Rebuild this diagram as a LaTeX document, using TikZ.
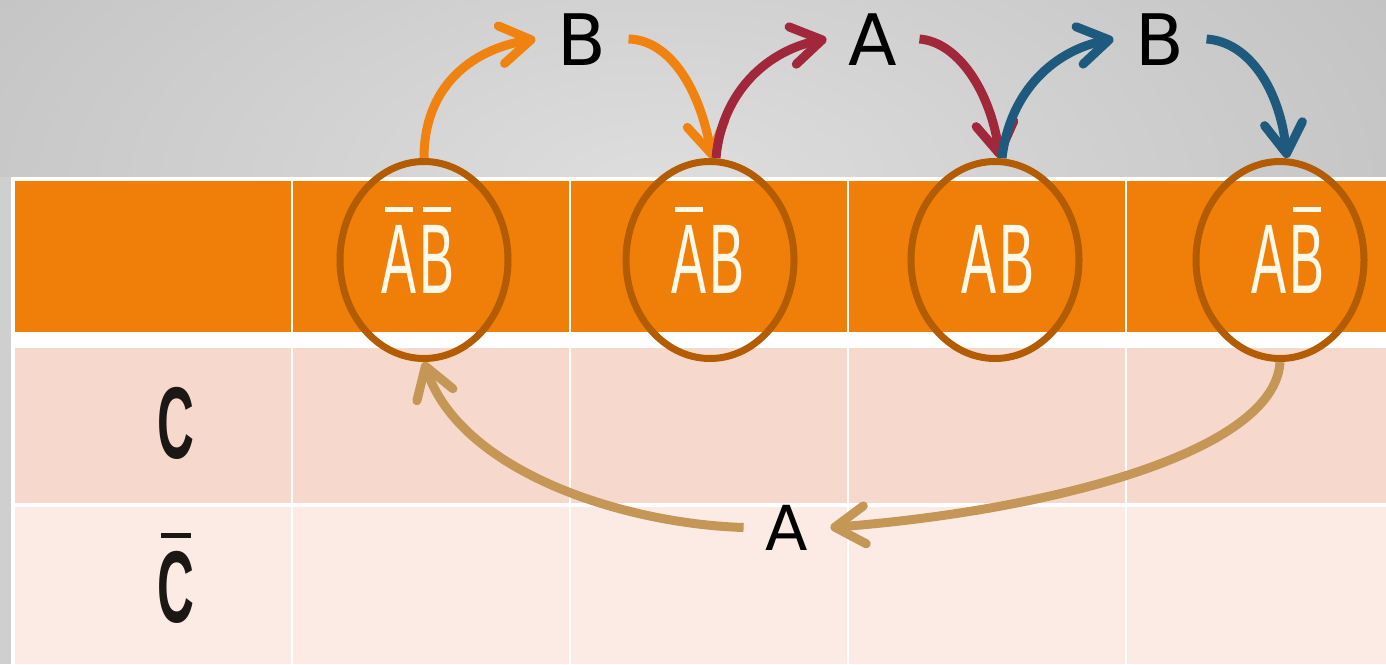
\documentclass[tikz,border=0pt]{standalone}
\usepackage{fontspec}
\usepackage{graphicx}
\setmainfont{DejaVu Sans}
\newfontfamily\cellfont{Liberation Sans}
\usetikzlibrary{arrows.meta,shapes.geometric,calc}
\definecolor{bgO}{HTML}{C3C3C3}
\definecolor{bgM}{HTML}{DEDEDE}
\definecolor{bgS}{HTML}{CFCFCF}
\definecolor{hdr}{HTML}{EF7F08}
\definecolor{rowc}{HTML}{F7D8CC}
\definecolor{rowcb}{HTML}{FBEBE4}
\definecolor{ellc}{HTML}{B35C02}
\definecolor{cream}{HTML}{FFF9EA}
\definecolor{inkc}{HTML}{1A1714}
\definecolor{arO}{HTML}{F0830F}
\definecolor{arR}{HTML}{A1283A}
\definecolor{arB}{HTML}{1E5A7D}
\definecolor{arT}{HTML}{C49757}
\newcommand\barred[2][81pt]{\setbox0\hbox{#2}\rlap{\hspace{0.1\wd0}\rule[#1]{0.8\wd0}{5pt}}#2}
\newcommand\hdrtext[1]{\scalebox{0.53}[1]{\cellfont\fontsize{99pt}{99pt}\selectfont #1}}
\newcommand\rowtext[1]{\scalebox{0.5}[1]{\cellfont\bfseries\fontsize{102pt}{102pt}\selectfont #1}}
\newcommand\gp{\kern5pt}
\tikzset{
  ell/.style={ellipse, draw=ellc, line width=7pt, minimum width=168pt, minimum height=197pt, inner sep=0pt},
  celltxt/.style={anchor=base, inner sep=0pt, text=cream},
  rowlbl/.style={anchor=base, inner sep=0pt, text=inkc},
  lbl/.style={anchor=base, inner xsep=22pt, inner ysep=0pt, text height=52pt, text depth=0pt, font=\fontsize{71pt}{71pt}\selectfont, text=black},
  lblsm/.style={lbl, text height=45pt, font=\fontsize{62pt}{62pt}\selectfont},
  flow/.style={line width=9pt, -{Straight Barb[length=30pt,width=38pt,round]}},
}
\begin{document}
\begin{tikzpicture}[x=1pt,y=-1pt]
\useasboundingbox (0,0) rectangle (1386,664);
% background
\fill[bgO] (0,0) rectangle (1386,664);
\shade[inner color=bgM, outer color=bgO] (660,190) ellipse (820 and 420);
\fill[bgS] (0,177) rectangle (11,664);
\fill[white] (11,177) rectangle (1386,664);
% table cells
\foreach \a/\b in {15/291,293/569,571/847,849/1125,1127/1386}{
  \fill[hdr] (\a,181) rectangle (\b,332);
  \fill[rowc] (\a,348) rectangle (\b,503);
  \fill[rowcb] (\a,507) rectangle (\b,664);
}
% header texts
\node[celltxt] (t1) at (418,293) {\hdrtext{\barred{A}\gp\barred{B}}};
\node[celltxt] (t2) at (708,293) {\hdrtext{\barred{A}\gp B}};
\node[celltxt] (t3) at (998,293) {\hdrtext{A\gp B}};
\node[celltxt] (t4) at (1288,293) {\hdrtext{A\gp\barred{B}}};
% row labels
\node[rowlbl] (c1) at (176,458) {\rowtext{C}};
\node[rowlbl] (c2) at (176,622) {\rowtext{\barred[84pt]{C}}};
% ellipses
\node[ell] (e1) at (424,260) {};
\node[ell] (e2) at (710,260) {};
\node[ell] (e3) at (995,260) {};
\node[ell] (e4) at (1280,260) {};
% labels
\node[lbl] (lb1) at (582,65) {B};
\node[lbl] (la1) at (873,65) {A};
\node[lbl] (lb2) at (1160,65) {B};
\node[lblsm] (la2) at (787,550) {A};
% arrows
\draw[flow, arO] (e1.north) .. controls +(0,-70) and +(-66,11) .. (lb1.west);
\draw[flow, arO] (lb1.east) .. controls +(42,1) and +(-12,-68) .. ([xshift=2pt]e2.north);
\draw[flow, arR] ([xshift=6pt]e2.north) .. controls +(6,-68) and +(-57,11) .. (la1.west);
\draw[flow, arR] (la1.east) .. controls +(38,3) and +(-10,-68) .. ([xshift=5pt]e3.north);
\draw[flow, arB] ([xshift=7pt]e3.north) .. controls +(8,-68) and +(-58,11) .. (lb2.west);
\draw[flow, arB] (lb2.east) .. controls +(43,3) and +(-7,-68) .. ([xshift=7pt]e4.north);
\draw[flow, arT] (e4.south) .. controls +(-5,90) and +(220,-17) .. (la2.east);
\draw[flow, arT] (la2.west) .. controls +(-124,-4) and +(36,108) .. (e1.south);
\end{tikzpicture}
\end{document}
